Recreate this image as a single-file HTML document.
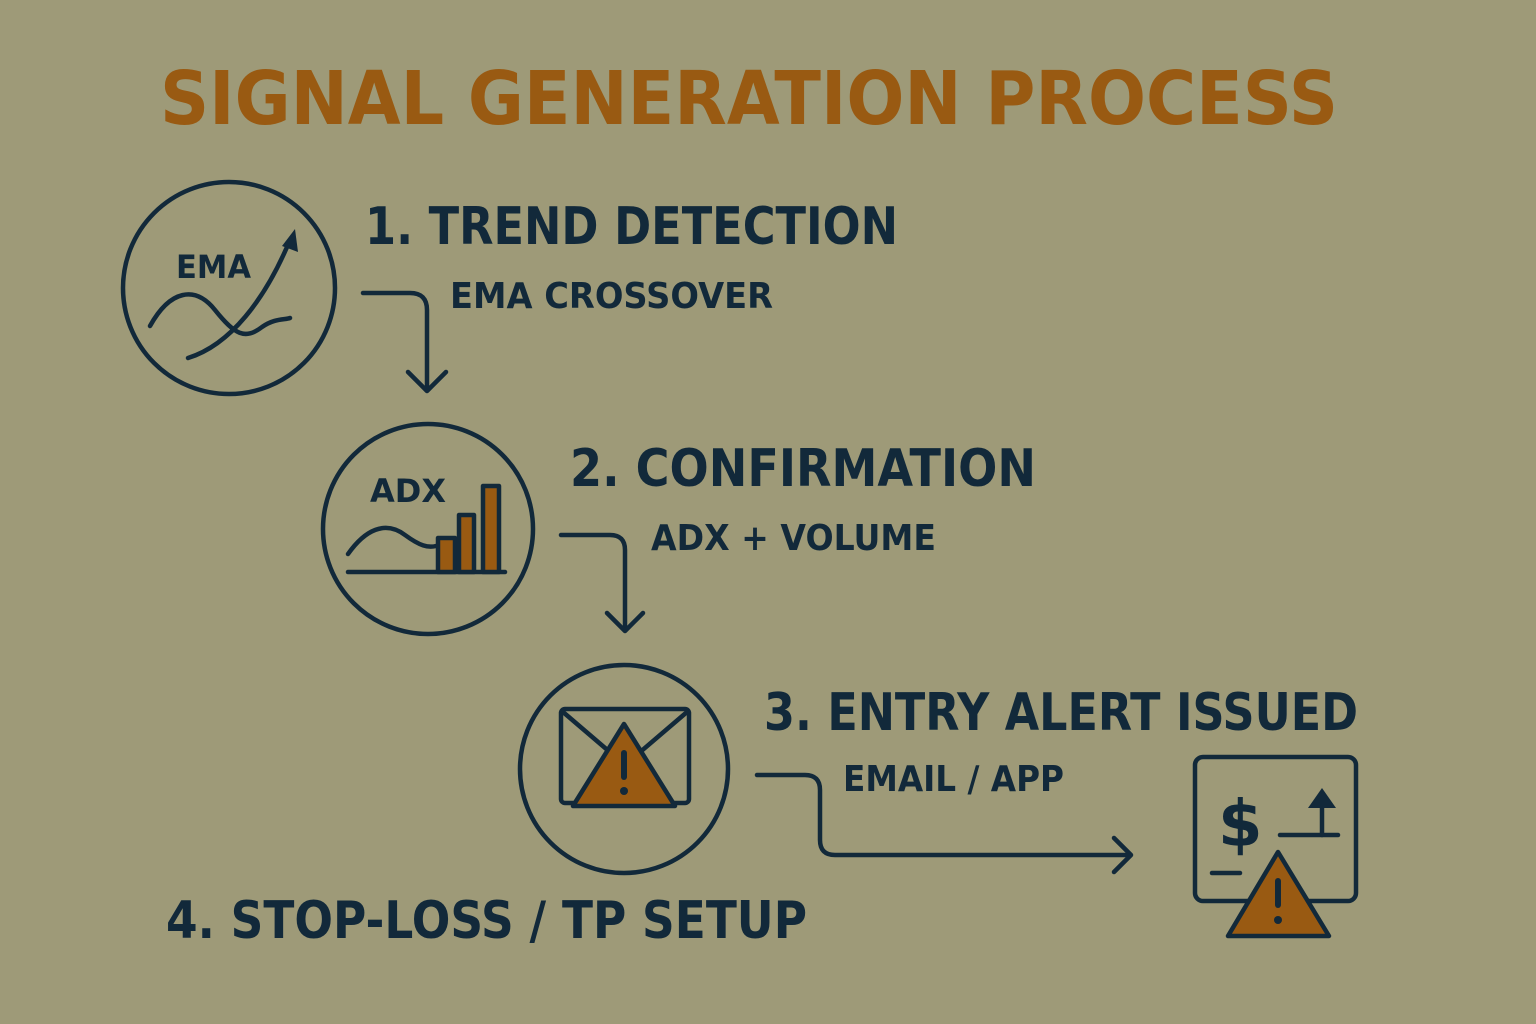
<!DOCTYPE html>
<html><head><meta charset="utf-8"><style>
html,body{margin:0;padding:0;background:#9e9a78;}
svg{display:block}
text{font-family:"DejaVu Sans","Liberation Sans",sans-serif;font-weight:bold;}
</style></head><body>
<svg width="1536" height="1024" viewBox="0 0 1536 1024" xmlns="http://www.w3.org/2000/svg">
<rect width="1536" height="1024" fill="#9e9a78"/>
<text x="160" y="124" font-size="74" fill="#995a12" textLength="1178" lengthAdjust="spacingAndGlyphs">SIGNAL GENERATION PROCESS</text>
<g fill="#12293a">
<text x="365" y="244" font-size="52" textLength="533" lengthAdjust="spacingAndGlyphs">1. TREND DETECTION</text>
<text x="450" y="308" font-size="36" textLength="323" lengthAdjust="spacingAndGlyphs">EMA CROSSOVER</text>
<text x="570" y="486" font-size="52" textLength="466" lengthAdjust="spacingAndGlyphs">2. CONFIRMATION</text>
<text x="651" y="550" font-size="36" textLength="285" lengthAdjust="spacingAndGlyphs">ADX + VOLUME</text>
<text x="764" y="730" font-size="52" textLength="594" lengthAdjust="spacingAndGlyphs">3. ENTRY ALERT ISSUED</text>
<text x="843" y="791" font-size="36" textLength="221" lengthAdjust="spacingAndGlyphs">EMAIL / APP</text>
<text x="166" y="938" font-size="52" textLength="641" lengthAdjust="spacingAndGlyphs">4. STOP-LOSS / TP SETUP</text>
<text x="176" y="278" font-size="32" textLength="75" lengthAdjust="spacingAndGlyphs">EMA</text>
<text x="370" y="502" font-size="32" textLength="76" lengthAdjust="spacingAndGlyphs">ADX</text>
</g>
<g fill="none" stroke="#12293a" stroke-width="4.5" stroke-linecap="round" stroke-linejoin="round">
<circle cx="229" cy="288" r="106"/>
<circle cx="428" cy="529" r="105"/>
<circle cx="624" cy="769" r="104"/>
<path d="M150 326 C170 290 195 285 215 310 C235 335 245 340 262 327 C275 318 285 320 290 318"/>
<path d="M188 358 C230 345 265 300 290 240"/>
<path d="M348 554 C365 530 385 520 405 535 C420 546 428 548 436 546"/>
<path d="M348 572 L505 572"/>
<path d="M363 293 L410 293 Q427 293 427 310 L427 390"/>
<path d="M408 372 L427 391 L446 372"/>
<path d="M561 535 L610 535 Q625 535 625 550 L625 630"/>
<path d="M607 613 L625 631 L643 613"/>
<path d="M757 775 L805 775 Q820 775 820 790 L820 840 Q820 855 835 855 L1130 855"/>
<path d="M1114 838 L1131 855 L1114 872"/>
<rect x="561" y="709" width="128" height="94" rx="4"/>
<path d="M563 712 L625 765 L687 712"/>
<rect x="1195" y="757" width="161" height="144" rx="8"/>
<path d="M1212 873 L1240 873"/>
<path d="M1280 835 L1338 835"/>
<path d="M1322 835 L1322 808"/>
</g>
<path d="M295 229 L298 252 L282 246 Z" fill="#12293a"/>
<g fill="#995a12" stroke="#12293a" stroke-width="4.5" stroke-linejoin="round">
<rect x="438" y="538" width="17" height="34"/>
<rect x="459" y="515" width="15" height="57"/>
<rect x="483" y="486" width="16" height="86"/>
<path d="M624 724 L675 806 L573 806 Z"/>
<path d="M1278 852 L1329 936 L1228 936 Z"/>
</g>
<g fill="#12293a">
<path d="M1322 788 L1336 808 L1308 808 Z"/>
<rect x="621" y="750" width="6" height="30" rx="3"/>
<circle cx="624" cy="791" r="4"/>
<rect x="1275" y="878" width="6" height="30" rx="3"/>
<circle cx="1278" cy="920" r="4"/>
<text x="1218" y="846" font-size="64">$</text>
</g>
</svg>
</body></html>
